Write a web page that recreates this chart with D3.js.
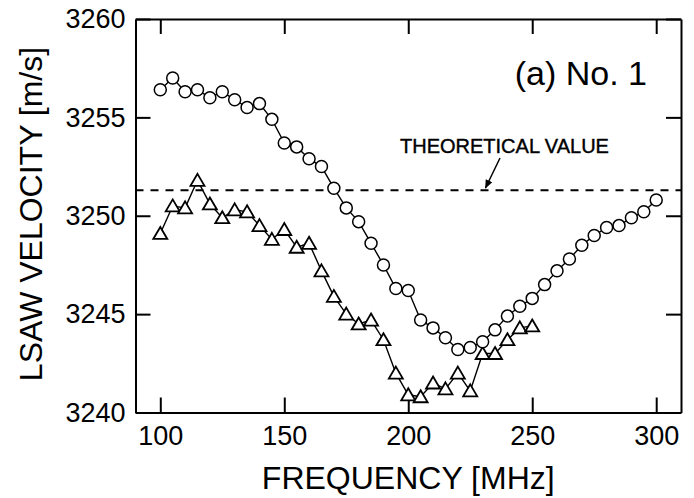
<!DOCTYPE html>
<html>
<head>
<meta charset="utf-8">
<script src="https://cdn.jsdelivr.net/npm/d3@7"></script>
<style>
  body { margin: 0; background: #fff; }
  svg { display: block; font-family: "Liberation Sans", Arial, Helvetica, sans-serif; }
  .axis path, .axis line { stroke: #000; stroke-width: 2; }
  .axis text { font-size: 27px; fill: #000; }
</style>
</head>
<body>
<div id="chart"></div>
<script>
'use strict';

// circles (upper series)
var circleFreq = [100, 105, 110, 115, 120, 125, 130, 135, 140, 145, 150,
    155, 160, 165, 170, 175, 180, 185, 190, 195, 200, 205, 210, 215, 220,
    225, 230, 235, 240, 245, 250, 255, 260, 265, 270, 275, 280, 285, 290,
    295, 300];
var circleVel = [3256.4, 3257.0, 3256.3, 3256.4, 3256.0, 3256.3, 3255.9,
    3255.5, 3255.7, 3254.9, 3253.7, 3253.5, 3252.9, 3252.5, 3251.4, 3250.4,
    3249.7, 3248.6, 3247.5, 3246.3, 3246.2, 3244.7, 3244.3, 3243.8, 3243.2,
    3243.3, 3243.6, 3244.2, 3244.9, 3245.4, 3245.8, 3246.5, 3247.2, 3247.8,
    3248.5, 3249.0, 3249.4, 3249.5, 3249.9, 3250.2, 3250.8];

// triangles (lower series)
var triangleFreq = [100, 105, 110, 115, 120, 125, 130, 135, 140, 145, 150,
    155, 160, 165, 170, 175, 180, 185, 190, 195, 200, 205, 210, 215, 220,
    225, 230, 235, 240, 245, 250];
var triangleVel = [3249.1, 3250.5, 3250.4, 3251.8, 3250.6, 3249.9, 3250.3,
    3250.2, 3249.5, 3248.8, 3249.3, 3248.4, 3248.6, 3247.2, 3245.9, 3245.0,
    3244.5, 3244.7, 3243.7, 3242.0, 3240.9, 3240.8, 3241.5, 3241.2, 3242.0,
    3241.1, 3243.0, 3243.0, 3243.7, 3244.3, 3244.4];

var theoreticalValue = 3251.3;

var xTicks = [100, 150, 200, 250, 300];
var yTicks = [3240, 3245, 3250, 3255, 3260];

var WIDTH = 694,
    HEIGHT = 498,
    LEFT = 135.5,
    RIGHT = 681,
    TOP = 19,
    BOTTOM = 412.5,
    TICK = 15;

var svg = d3.select('#chart').append('svg')
    .attr('width', WIDTH)
    .attr('height', HEIGHT)
    .attr('viewBox', '0 0 ' + WIDTH + ' ' + HEIGHT);

var x = d3.scaleLinear().domain([90, 310]).range([LEFT, RIGHT]);
var y = d3.scaleLinear().domain([3240, 3260]).range([BOTTOM, TOP]);

// axes, ticks point inward
svg.append('g')
    .attr('class', 'axis')
    .attr('transform', 'translate(0,' + BOTTOM + ')')
    .call(d3.axisBottom(x).tickValues(xTicks).tickSizeInner(-TICK)
        .tickSizeOuter(0).tickPadding(13));

svg.append('g')
    .attr('class', 'axis')
    .attr('transform', 'translate(' + LEFT + ',0)')
    .call(d3.axisLeft(y).tickValues(yTicks).tickSizeInner(-TICK)
        .tickSizeOuter(0).tickPadding(10).tickFormat(d3.format('d')));

svg.append('g')
    .attr('class', 'axis')
    .attr('transform', 'translate(0,' + TOP + ')')
    .call(d3.axisTop(x).tickValues(xTicks).tickSizeInner(-TICK)
        .tickSizeOuter(0).tickFormat(''));

svg.append('g')
    .attr('class', 'axis')
    .attr('transform', 'translate(' + RIGHT + ',0)')
    .call(d3.axisRight(y).tickValues(yTicks).tickSizeInner(-TICK)
        .tickSizeOuter(0).tickFormat(''));

// theoretical value, dashed
svg.append('line')
    .attr('x1', LEFT)
    .attr('x2', RIGHT)
    .attr('y1', y(theoreticalValue))
    .attr('y2', y(theoreticalValue))
    .attr('stroke', '#000')
    .attr('stroke-width', 2)
    .attr('stroke-dasharray', '8,7');

svg.append('text')
    .attr('x', 400)
    .attr('y', 153)
    .attr('font-size', 20)
    .attr('stroke', '#000')
    .attr('stroke-width', 0.4)
    .text('THEORETICAL VALUE');

// arrow pointing to dashed line
svg.append('defs').append('marker')
    .attr('id', 'arrow')
    .attr('viewBox', '0 0 10 10')
    .attr('refX', 9)
    .attr('refY', 5)
    .attr('markerWidth', 9)
    .attr('markerHeight', 9)
    .attr('markerUnits', 'userSpaceOnUse')
    .attr('orient', 'auto')
    .append('path')
    .attr('d', 'M0,1L10,5L0,9Z')
    .attr('fill', '#000');

svg.append('line')
    .attr('x1', 500)
    .attr('y1', 158)
    .attr('x2', 485.5)
    .attr('y2', 188)
    .attr('stroke', '#000')
    .attr('stroke-width', 1.5)
    .attr('marker-end', 'url(#arrow)');

var circleData = circleFreq.map(function (f, i) {
  return {f: f, v: circleVel[i]};
});
var triangleData = triangleFreq.map(function (f, i) {
  return {f: f, v: triangleVel[i]};
});

var line = d3.line()
    .x(function (d) { return x(d.f); })
    .y(function (d) { return y(d.v); });

svg.append('path')
    .datum(triangleData)
    .attr('d', line)
    .attr('fill', 'none')
    .attr('stroke', '#000')
    .attr('stroke-width', 1.4);

svg.append('path')
    .datum(circleData)
    .attr('d', line)
    .attr('fill', 'none')
    .attr('stroke', '#000')
    .attr('stroke-width', 1.4);

svg.append('g').selectAll('path')
    .data(triangleData)
    .enter().append('path')
    .attr('d', 'M0,-6.5L7,5.5L-7,5.5Z')
    .attr('transform', function (d) {
      return 'translate(' + x(d.f) + ',' + y(d.v) + ')';
    })
    .attr('fill', '#fff')
    .attr('stroke', '#000')
    .attr('stroke-width', 1.8);

svg.append('g').selectAll('circle')
    .data(circleData)
    .enter().append('circle')
    .attr('cx', function (d) { return x(d.f); })
    .attr('cy', function (d) { return y(d.v); })
    .attr('r', 6)
    .attr('fill', '#fff')
    .attr('stroke', '#000')
    .attr('stroke-width', 1.5);

// labels
svg.append('text')
    .attr('x', 647)
    .attr('y', 85)
    .attr('text-anchor', 'end')
    .attr('font-size', 34)
    .text('(a) No. 1');

svg.append('text')
    .attr('x', (LEFT + RIGHT) / 2)
    .attr('y', 489)
    .attr('text-anchor', 'middle')
    .attr('font-size', 32)
    .text('FREQUENCY [MHz]');

svg.append('text')
    .attr('transform', 'translate(42,214) rotate(-90)')
    .attr('text-anchor', 'middle')
    .attr('font-size', 32)
    .text('LSAW VELOCITY [m/s]');
</script>
</body>
</html>
